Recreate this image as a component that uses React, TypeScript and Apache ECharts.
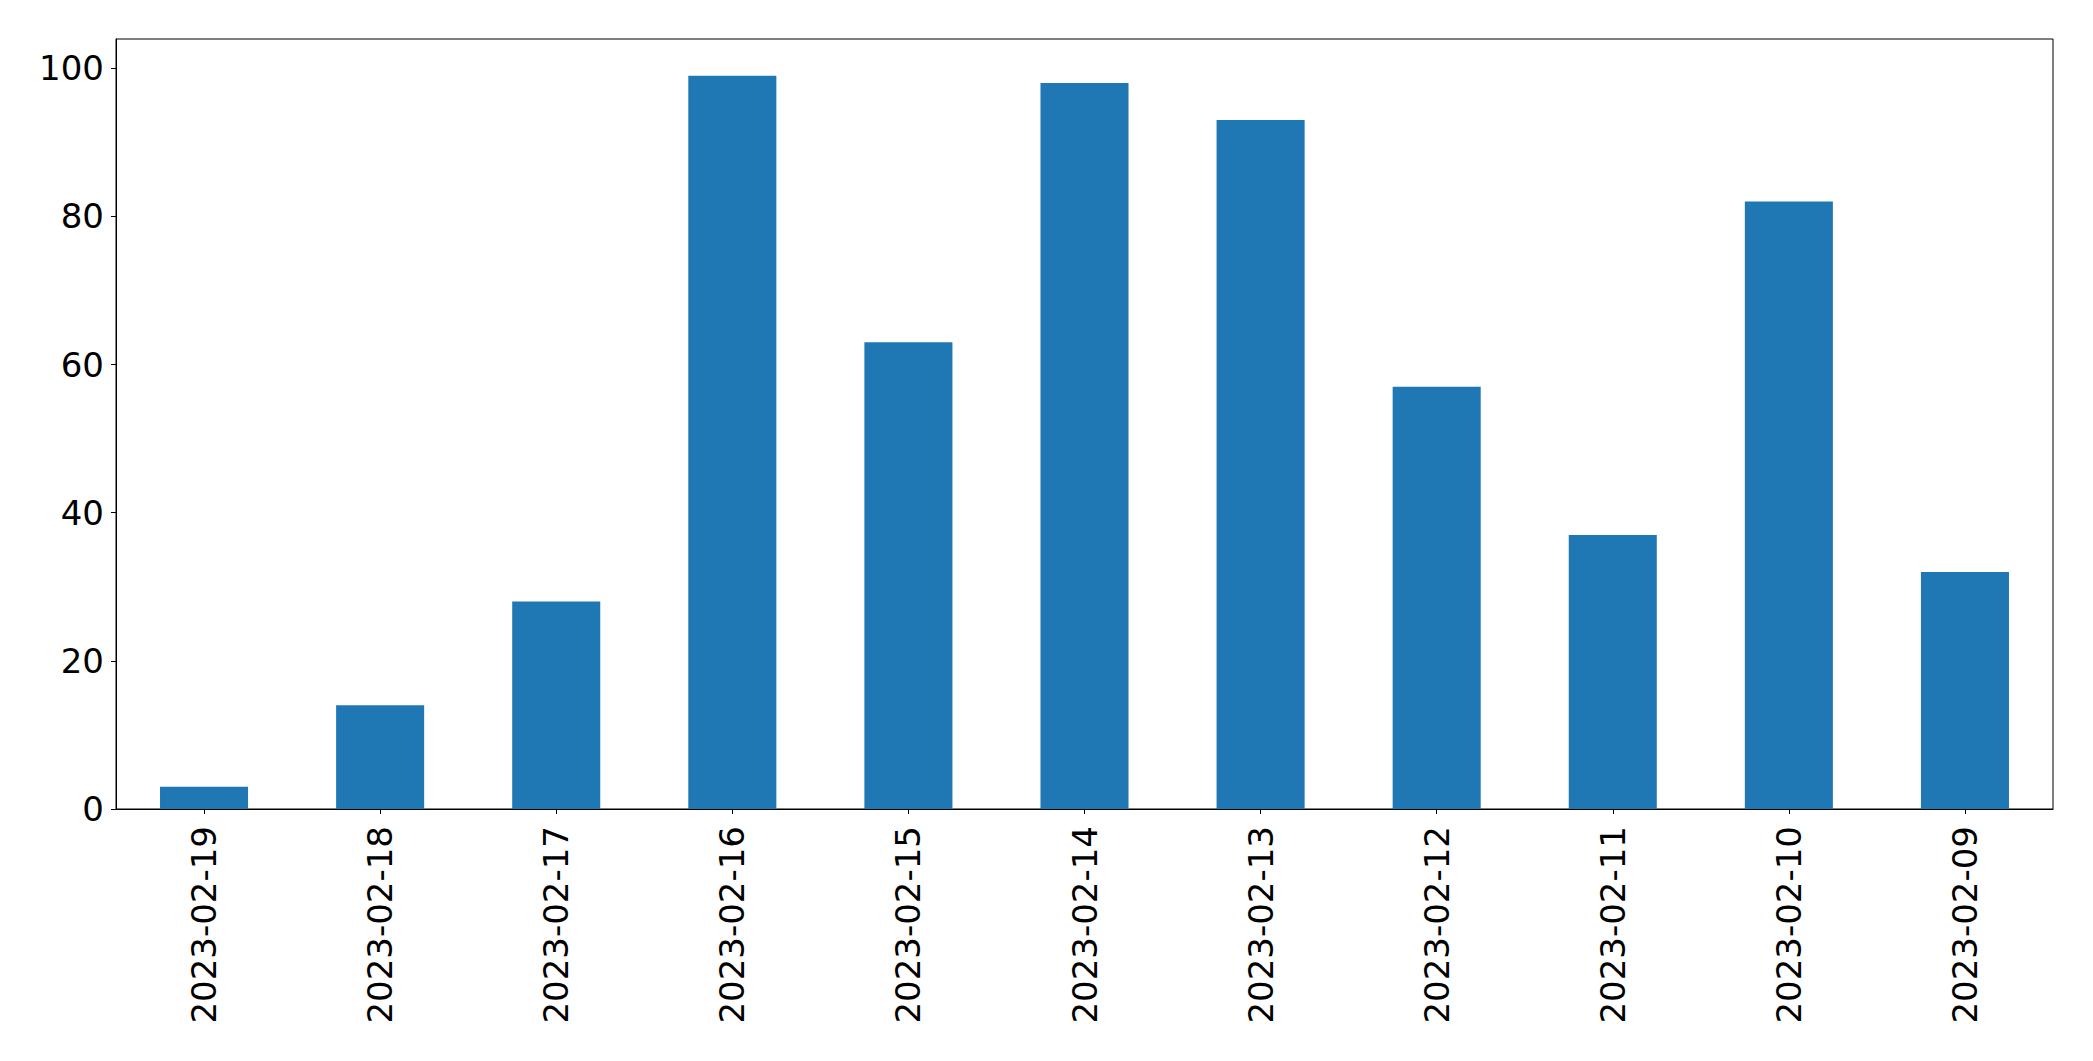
import React, { useEffect, useRef } from "react";
import * as echarts from "echarts";

const categories = [
  "2023-02-19",
  "2023-02-18",
  "2023-02-17",
  "2023-02-16",
  "2023-02-15",
  "2023-02-14",
  "2023-02-13",
  "2023-02-12",
  "2023-02-11",
  "2023-02-10",
  "2023-02-09",
];
const values = [3, 14, 28, 99, 63, 98, 93, 57, 37, 82, 32];
const yTicks = [0, 20, 40, 60, 80, 100];

export default function App() {
  const ref = useRef<HTMLDivElement>(null);
  useEffect(() => {
    if (!ref.current) return;
    const chart = echarts.init(ref.current, null, { renderer: "svg" });
    const font = "DejaVu Sans";
    chart.setOption({
      animation: false,
      backgroundColor: "#ffffff",
      grid: {
        left: 116,
        top: 39,
        width: 1937,
        height: 770,
        show: true,
        borderColor: "#000000",
        borderWidth: 1,
        backgroundColor: "transparent",
      },
      xAxis: {
        type: "category",
        data: categories,
        boundaryGap: true,
        axisLine: { show: true, lineStyle: { color: "#000000", width: 1 } },
        axisTick: {
          show: true,
          alignWithLabel: true,
          length: 5,
          lineStyle: { color: "#000000", width: 1 },
        },
        axisLabel: {
          rotate: 90,
          margin: 17,
          color: "#000000",
          fontSize: 34,
          fontFamily: font,
          interval: 0,
        },
        splitLine: { show: false },
      },
      yAxis: {
        type: "value",
        min: 0,
        max: 103.95,
        interval: 20,
        axisLine: { show: true, lineStyle: { color: "#000000", width: 1 } },
        axisTick: {
          show: true,
          length: 5,
          customValues: yTicks,
          lineStyle: { color: "#000000", width: 1 },
        },
        axisLabel: {
          margin: 12,
          color: "#000000",
          fontSize: 34,
          fontFamily: font,
          customValues: yTicks,
        },
        splitLine: { show: false },
      },
      series: [
        {
          type: "bar",
          data: values,
          barWidth: "50%",
          itemStyle: { color: "#1f77b4" },
        },
      ],
    });
    return () => chart.dispose();
  }, []);
  return (
    <div
      ref={ref}
      style={{ position: "fixed", left: 0, top: 0, width: 2093, height: 1061 }}
    />
  );
}
